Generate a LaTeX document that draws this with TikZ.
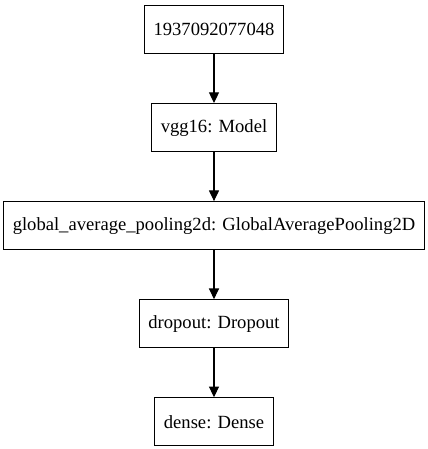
\documentclass[tikz,border=0pt]{standalone}
\usepackage{fontspec}
\setmainfont{Liberation Serif}
\usetikzlibrary{arrows.meta,positioning}
\tikzset{
    layer/.style={rectangle,draw,line width=0.8pt,minimum height=36bp,inner xsep=7bp,font=\fontsize{14}{16}\selectfont},
    post/.style={{Triangle[length=8bp,width=7.5bp]}-,line width=0.8pt}
}
\begin{document}
\begin{tikzpicture}[x=0.75bp,y=-0.75bp,node distance=36.75bp]

                \useasboundingbox (0,0) rectangle (428,449);

                \node[layer] (input)   at (214,29.5)        {1937092077048};
                \node[layer] (vgg16)   [below=of input]     {vgg16: Model}
                    edge[post] (input);
                \node[layer] (pooling) [below=of vgg16]     {global\_average\_pooling2d: GlobalAveragePooling2D}
                    edge[post] (vgg16);
                \node[layer] (dropout) [below=of pooling]   {dropout: Dropout}
                    edge[post] (pooling);
                \node[layer] (dense)   [below=of dropout]   {dense: Dense}
                    edge[post] (dropout);

            \end{tikzpicture}
\end{document}
